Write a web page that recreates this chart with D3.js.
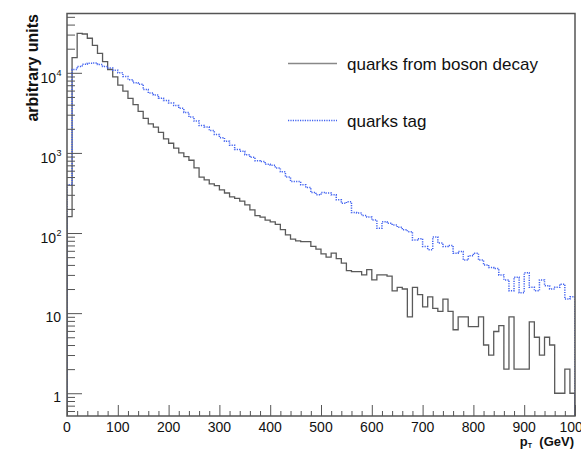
<!DOCTYPE html>
<html>
<head>
<meta charset="utf-8">
<script src="https://cdn.jsdelivr.net/npm/d3@7"></script>
<style>
  html, body { margin: 0; padding: 0; background: #fff; }
  svg { display: block; font-family: "Liberation Sans", Arial, Helvetica, sans-serif; }
</style>
</head>
<body>
<svg id="chart" width="581" height="454"></svg>
<script>
// ---- data ----
const binLow = d3.range(0, 1000, 10);            // lower edges of 10 GeV bins (pT)
const bosonDecay = [160,15500,31000,30500,27000,22000,17500,13800,11000,8900,
  7000,5900,4800,4000,3300,2700,2300,2100,1800,1500,
  1320,1150,1000,900,810,650,500,460,410,390,
  345,316,282,270,250,224,195,165,158,145,
  138,128,110,95,84,80,78,78,68,63,
  55,50,56,48,42,34,33,33,30,35,
  26,30,30,29,19,21,20,9,21,17,
  12,16,11.5,10.5,15,10.5,6.2,9,9,6.8,
  6.8,9,4,3,5.9,7,2,9,2,2,
  2,7.8,5,3,5,4,1,1,2,1];
const quarksTag = [400,11000,12000,12800,13200,13300,12700,12000,11500,10800,
  10000,9000,8200,7500,7200,6200,5600,5300,4800,4500,
  4200,3900,3600,3200,2800,2500,2200,2100,1900,1700,
  1550,1400,1250,1100,1050,950,880,800,780,720,
  700,650,580,500,440,440,400,370,320,300,
  320,315,300,260,235,245,180,178,165,158,
  145,115,138,132,126,118,110,104,82,85,
  68,62,89,75,68,70,56,59,46,52,
  56,46,40,37,36,30,26,19,28,18,
  32,21,19,26,22,20,21,23,15,16];
const xTicks = [0,100,200,300,400,500,600,700,800,900,1000];
const yTicks = [1,10,100,1000,10000];
const yTickBase = ["1","10","10","10","10"];
const yTickExp = ["","","2","3","4"];
const seriesNames = ["quarks from boson decay", "quarks tag"];

// ---- layout ----
const L = 67, R = 575, T = 13.5, B = 416;
const svg = d3.select("#chart");
const x = d3.scaleLinear().domain([0, 1000]).range([L, R]);
const y = d3.scaleLog().domain([0.52, 55000]).range([B, T]);
const yMin = y.domain()[0];

svg.append("defs").append("clipPath").attr("id", "plotclip")
  .append("rect").attr("x", L).attr("y", T).attr("width", R - L).attr("height", B - T);

function histPts(vals) {
  const pts = [[0, yMin]];
  vals.forEach((v, i) => pts.push([binLow[i], v]));
  pts.push([1000, vals[vals.length - 1]]);
  pts.push([1000, yMin]);
  return pts;
}
const line = d3.line().x(d => x(d[0])).y(d => y(d[1])).curve(d3.curveStepAfter);

const plot = svg.append("g").attr("clip-path", "url(#plotclip)");
plot.append("path").attr("d", line(histPts(bosonDecay)))
  .attr("fill", "none").attr("stroke", "#5a5a5a").attr("stroke-width", 1.3);
plot.append("path").attr("d", line(histPts(quarksTag)))
  .attr("fill", "none").attr("stroke", "#4263f0").attr("stroke-width", 1.5)
  .attr("stroke-dasharray", "1.2,1.2");

// ---- frame ----
svg.append("path")
  .attr("d", `M${L},${B}V${T}H${R}V${B}Z`)
  .attr("fill", "none").attr("stroke", "#555").attr("stroke-width", 1.5);

// ---- y axis ticks (inside) ----
const yAxis = d3.axisRight(y).tickValues(yTicks).tickSize(15).tickFormat("");
const yg = svg.append("g").attr("transform", `translate(${L},0)`).call(yAxis);
yg.select(".domain").remove();
yg.selectAll("line").attr("stroke", "#555");
const minorY = [];
[0.1, 1, 10, 100, 1000, 10000].forEach(dec => {
  for (let k = 2; k <= 9; k++) { const v = dec * k; if (v >= yMin && v <= 55000) minorY.push(v); }
});
const yMinorAxis = d3.axisRight(y).tickValues(minorY).tickSize(8).tickFormat("");
const ymg = svg.append("g").attr("transform", `translate(${L},0)`).call(yMinorAxis);
ymg.select(".domain").remove();
ymg.selectAll("line").attr("stroke", "#555");

// y labels
const ylab = svg.append("g");
yTicks.forEach((v, i) => {
  const t = ylab.append("text")
    .attr("x", yTickExp[i] ? 56 : 61)
    .attr("y", y(v) + (yTickExp[i] ? 10 : 9))
    .attr("text-anchor", "end")
    .attr("font-size", 14).attr("fill", "#111");
  t.append("tspan").text(yTickBase[i]);
  if (yTickExp[i]) {
    ylab.append("text").attr("x", 56.5).attr("y", y(v) + 3)
      .attr("font-size", 9).attr("fill", "#111").text(yTickExp[i]);
  }
});

// ---- x axis ticks (inside) ----
const xAxis = d3.axisTop(x).tickValues(xTicks).tickSize(11).tickFormat("");
const xg = svg.append("g").attr("transform", `translate(0,${B})`).call(xAxis);
xg.select(".domain").remove();
xg.selectAll("line").attr("stroke", "#555");
const minorX = d3.range(20, 1000, 20).filter(v => v % 100 !== 0);
const xMinorAxis = d3.axisTop(x).tickValues(minorX).tickSize(5).tickFormat("");
const xmg = svg.append("g").attr("transform", `translate(0,${B})`).call(xMinorAxis);
xmg.select(".domain").remove();
xmg.selectAll("line").attr("stroke", "#555");

svg.append("g").selectAll("text").data(xTicks).join("text")
  .attr("x", d => x(d)).attr("y", 432)
  .attr("text-anchor", "middle").attr("font-size", 14).attr("fill", "#111")
  .text(d => d);

// ---- titles ----
svg.append("text")
  .attr("transform", `translate(38,14) rotate(-90)`)
  .attr("text-anchor", "end").attr("font-size", 16).attr("font-weight", "bold")
  .attr("fill", "#111").text("arbitrary units");

const xt = svg.append("text").attr("x", 574).attr("y", 446)
  .attr("text-anchor", "end").attr("font-size", 13).attr("font-weight", "bold").attr("fill", "#111");
xt.append("tspan").text("p");
xt.append("tspan").attr("font-size", 7).attr("dy", 2).text("T");
xt.append("tspan").attr("dy", -2).text("  (GeV)").attr("xml:space", "preserve");

// ---- legend ----
const leg = svg.append("g");
leg.append("line").attr("x1", 288).attr("x2", 337).attr("y1", 63.5).attr("y2", 63.5)
  .attr("stroke", "#888").attr("stroke-width", 1.5);
leg.append("text").attr("x", 347).attr("y", 69.5).attr("font-size", 17).attr("fill", "#111")
  .text(seriesNames[0]);
leg.append("line").attr("x1", 288).attr("x2", 337).attr("y1", 120.5).attr("y2", 120.5)
  .attr("stroke", "#4263f0").attr("stroke-width", 1.5).attr("stroke-dasharray", "1.2,1.2");
leg.append("text").attr("x", 347).attr("y", 126.5).attr("font-size", 17).attr("fill", "#111")
  .text(seriesNames[1]);
</script>
</body>
</html>
